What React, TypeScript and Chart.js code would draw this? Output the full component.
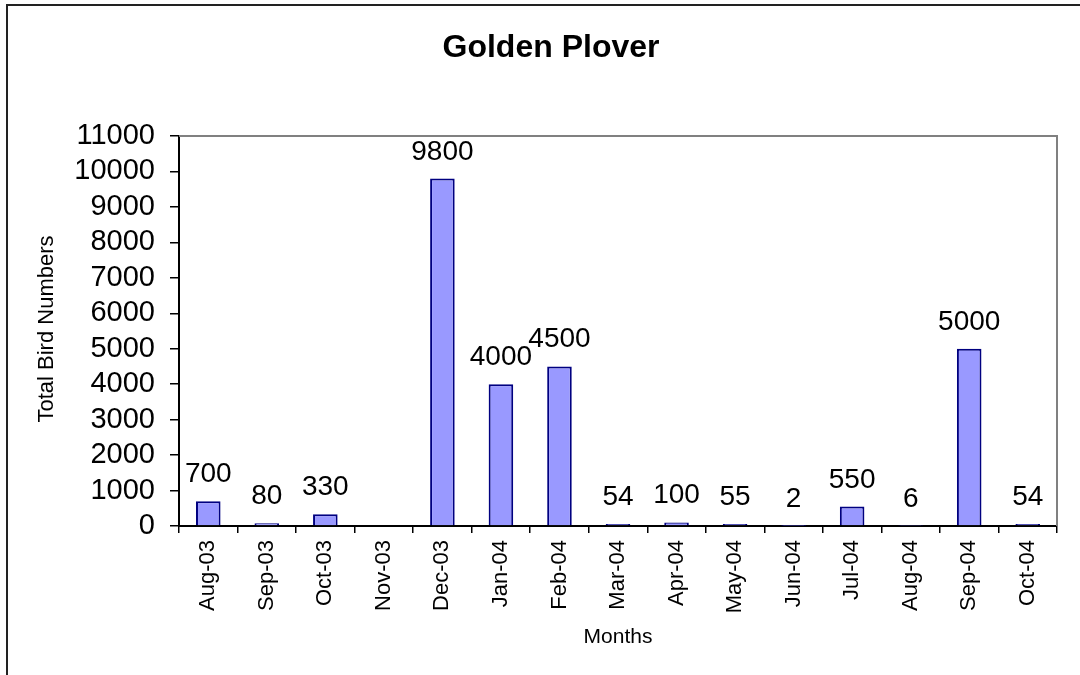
import React, { useEffect, useRef } from "react";
import { Chart, registerables } from "chart.js";

Chart.register(...registerables);

const months = [
  "Aug-03", "Sep-03", "Oct-03", "Nov-03", "Dec-03", "Jan-04", "Feb-04", "Mar-04",
  "Apr-04", "May-04", "Jun-04", "Jul-04", "Aug-04", "Sep-04", "Oct-04",
];
const birdCounts: (number | null)[] = [
  700, 80, 330, null, 9800, 4000, 4500, 54, 100, 55, 2, 550, 6, 5000, 54,
];
const yMin = 0;
const yMax = 11000;
const yStep = 1000;

const chartTitle = "Golden Plover";
const xTitle = "Months";
const yTitle = "Total Bird Numbers";

const FONT = "'Liberation Sans', Arial, sans-serif";

// Title, axis titles, value labels, frame lines
const decorations = {
  id: "decorations",
  afterDatasetsDraw(chart: any) {
    const { ctx, chartArea } = chart;
    ctx.save();

    // plot frame (top and right edges)
    ctx.strokeStyle = "#808080";
    ctx.lineWidth = 2;
    ctx.beginPath();
    ctx.moveTo(chartArea.left, chartArea.top);
    ctx.lineTo(chartArea.right, chartArea.top);
    ctx.lineTo(chartArea.right, chartArea.bottom);
    ctx.stroke();

    // outer frame
    ctx.strokeStyle = "#222";
    ctx.lineWidth = 2;
    ctx.beginPath();
    ctx.moveTo(7, 675);
    ctx.lineTo(7, 5);
    ctx.lineTo(1080, 5);
    ctx.stroke();

    ctx.fillStyle = "#000";
    ctx.textAlign = "center";

    // chart title
    ctx.font = `bold 32px ${FONT}`;
    ctx.textBaseline = "middle";
    ctx.fillText(chartTitle, 551, 48);

    // axis titles
    ctx.font = `21px ${FONT}`;
    ctx.fillText(xTitle, (chartArea.left + chartArea.right) / 2, 637);
    ctx.font = `22px ${FONT}`;
    ctx.save();
    ctx.translate(47, (chartArea.top + chartArea.bottom) / 2 - 2);
    ctx.rotate(-Math.PI / 2);
    ctx.fillText(yTitle, 0, 0);
    ctx.restore();

    // value labels above bars
    ctx.font = `28px ${FONT}`;
    ctx.textBaseline = "alphabetic";
    const meta = chart.getDatasetMeta(0);
    meta.data.forEach((bar: any, i: number) => {
      const v = birdCounts[i];
      if (v === null || v === undefined) return;
      ctx.fillText(String(v), bar.x, bar.y - 19);
    });

    ctx.restore();
  },
};

export default function App() {
  const canvasRef = useRef<HTMLCanvasElement>(null);

  useEffect(() => {
    document.body.style.margin = "0";
    const canvas = canvasRef.current;
    if (!canvas) return;
    const chart = new Chart(canvas, {
      type: "bar",
      data: {
        labels: months,
        datasets: [
          {
            data: birdCounts,
            backgroundColor: "#9999FF",
            borderColor: "#000080",
            borderWidth: 2,
            barPercentage: 0.42,
            categoryPercentage: 1,
          },
        ],
      },
      options: {
        responsive: false,
        animation: false,
        devicePixelRatio: 1,
        layout: { padding: { top: 136, right: 23, left: 0, bottom: 0 } },
        plugins: {
          legend: { display: false },
          title: { display: false },
          tooltip: { enabled: false },
        },
        scales: {
          x: {
            afterFit(scale: any) {
              scale.height = 149;
            },
            grid: {
              display: true,
              offset: true,
              drawOnChartArea: false,
              drawTicks: true,
              tickLength: 7,
              color: "#000",
              lineWidth: 1.5,
            },
            border: { display: true, color: "#000", width: 2 },
            ticks: {
              autoSkip: false,
              maxRotation: 90,
              minRotation: 90,
              padding: 7,
              color: "#000",
              font: { family: FONT, size: 22 },
            },
          },
          y: {
            min: yMin,
            max: yMax,
            afterFit(scale: any) {
              scale.width = 179;
            },
            grid: {
              display: true,
              drawOnChartArea: false,
              drawTicks: true,
              tickLength: 9,
              color: "#000",
              lineWidth: 1.5,
            },
            border: { display: true, color: "#000", width: 2 },
            ticks: {
              stepSize: yStep,
              autoSkip: false,
              padding: 15,
              color: "#000",
              font: { family: FONT, size: 29 },
              callback: (value: any) => String(value),
            },
          },
        },
      },
      plugins: [decorations],
    });
    return () => chart.destroy();
  }, []);

  return (
    <canvas
      ref={canvasRef}
      width={1080}
      height={675}
      style={{ display: "block", width: 1080, height: 675 }}
    />
  );
}
